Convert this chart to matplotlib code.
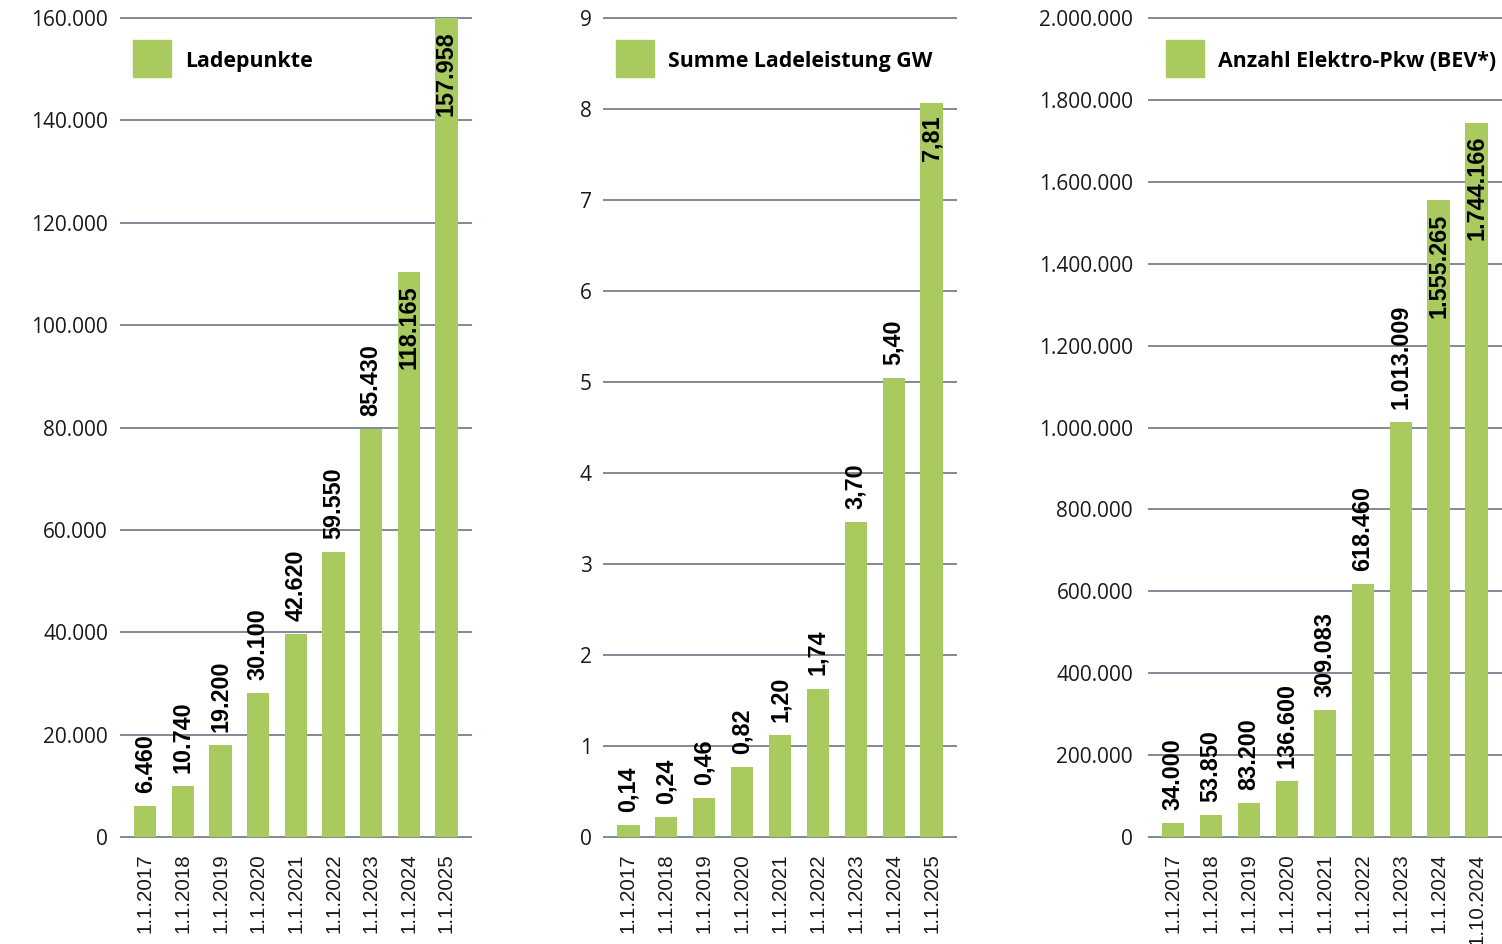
import matplotlib
matplotlib.use("Agg")
import matplotlib.pyplot as plt
from matplotlib.patches import Rectangle
from matplotlib.ticker import FuncFormatter

# Daten
dates = ["1.1.2017", "1.1.2018", "1.1.2019", "1.1.2020", "1.1.2021",
         "1.1.2022", "1.1.2023", "1.1.2024", "1.1.2025"]
dates_bev = dates[:-1] + ["1.10.2024"]

ladepunkte_bars = [6060, 9960, 17970, 28130, 39660, 55680, 79710, 110380, 160000]
ladepunkte_vals = [6460, 10740, 19200, 30100, 42620, 59550, 85430, 118165, 157958]

leistung_bars = [0.13, 0.22, 0.43, 0.77, 1.12, 1.63, 3.46, 5.04, 8.07]
leistung_vals = [0.14, 0.24, 0.46, 0.82, 1.20, 1.74, 3.70, 5.40, 7.81]

bev_vals = [34000, 53850, 83200, 136600, 309083, 618460, 1013009, 1555265, 1744166]

GREEN = "#a9ca5f"
GRID = "#6b7683"
TXT = "#1a1a1a"
W, H = 1502, 944


def de_int(v):
    return f"{int(round(v)):,}".replace(",", ".")


def de_dec(v):
    return f"{v:.2f}".replace(".", ",")


fig = plt.figure(figsize=(W / 100, H / 100), dpi=100)


def panel(x0, x1, bars, vals, labels, fmt, yticks, tickfmt, ypad, inside,
          title, sq_x, txt_x):
    ymax = yticks[-1]
    pad = ymax * 2 / 819
    ax = fig.add_axes([x0 / W, (H - 839) / H, (x1 - x0) / W, 823 / H])
    xs = range(len(bars))
    ax.bar(xs, bars, width=0.59, color=GREEN, zorder=3)
    ax.set_xlim(-0.67, 8.67)
    ax.set_ylim(-pad, ymax + pad)
    ax.set_yticks(yticks)
    ax.yaxis.set_major_formatter(FuncFormatter(tickfmt))
    ax.yaxis.grid(True, color=GRID, lw=1.2)
    ax.set_axisbelow(True)
    for s in ax.spines.values():
        s.set_visible(False)
    ax.tick_params(axis="y", length=0, pad=ypad, labelsize=15, labelcolor=TXT)
    ax.tick_params(axis="x", length=0, pad=10.4, labelcolor=TXT)
    for lab in ax.get_yticklabels():
        lab.set_fontfamily("Open Sans")
    ax.set_xticks(list(xs))
    ax.set_xticklabels(labels, rotation=90, fontsize=14.8,
                       fontfamily="Liberation Sans", va="top")

    # Werte an den Balken
    for i, (b, v) in enumerate(zip(bars, vals)):
        if i in inside:
            ax.annotate(fmt(v), (i, b), xytext=(0, -9.5), textcoords="offset points",
                        rotation=90, ha="center", va="top", fontsize=16.8,
                        fontweight="bold", fontfamily="Liberation Sans", color="black",
                        zorder=4)
        else:
            ax.annotate(fmt(v), (i, b), xytext=(0, 9.5), textcoords="offset points",
                        rotation=90, ha="center", va="bottom", fontsize=16.8,
                        fontweight="bold", fontfamily="Liberation Sans", color="black",
                        zorder=4)

    # Legende
    fig.patches.append(Rectangle((sq_x / W, (H - 77) / H), 38 / W, 37 / H,
                                 transform=fig.transFigure, color=GREEN))
    fig.text(txt_x / W, (H - 67) / H, title, fontsize=15.4, fontweight="bold",
             fontfamily="Open Sans", va="baseline", ha="left", color="black")
    return ax


panel(120, 471.7, ladepunkte_bars, ladepunkte_vals, dates, de_int,
      list(range(0, 160001, 20000)), lambda v, p: de_int(v), 8.6, [7, 8],
      "Ladepunkte", 133, 185.5)

panel(603, 957, leistung_bars, leistung_vals, dates, de_dec,
      list(range(0, 10)), lambda v, p: de_int(v), 8, [8],
      "Summe Ladeleistung GW", 616, 667.5)

panel(1147.7, 1502, bev_vals, bev_vals, dates_bev, de_int,
      list(range(0, 2000001, 200000)), lambda v, p: de_int(v), 10.5, [7, 8],
      "Anzahl Elektro-Pkw (BEV*)", 1166, 1218.3)

fig.savefig("out.png", dpi=100)
